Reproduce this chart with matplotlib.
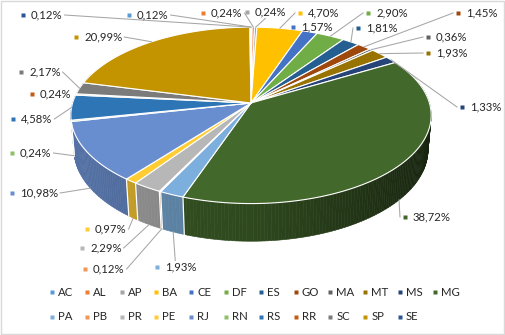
import numpy as np
import matplotlib.pyplot as plt
from matplotlib.collections import PolyCollection
from matplotlib.colors import to_rgb
from matplotlib.patches import Rectangle

plt.rcParams["font.family"] = ["Lato", "DejaVu Sans"]

states = ["AC", "AL", "AP", "BA", "CE", "DF", "ES", "GO", "MA", "MT", "MS", "MG",
          "PA", "PB", "PR", "PE", "RJ", "RN", "RS", "RR", "SC", "SP", "SE"]
shares = [0.12, 0.24, 0.24, 4.70, 1.57, 2.90, 1.81, 1.45, 0.36, 1.93, 1.33, 38.72,
          1.93, 0.12, 2.29, 0.97, 10.98, 0.24, 4.58, 0.24, 2.17, 20.99, 0.12]
colors = ["#5B9BD5", "#ED7D31", "#A5A5A5", "#FFC000", "#4472C4", "#70AD47",
          "#255E91", "#9E480E", "#636363", "#997300", "#264478", "#43682B",
          "#7CAFDD", "#F1975A", "#B7B7B7", "#FFCD33", "#698ED0", "#8CC168",
          "#2E75B6", "#C55A11", "#7B7B7B", "#C39300", "#2F5597"]

# label marker positions (pixels), one per slice
label_pos = [(129, 15), (203, 13), (247, 12), (300, 13), (293, 27), (368, 13),
             (358, 28), (458, 13), (428, 37), (428, 53), (462, 107), (405, 217),
             (157, 267), (85, 269), (82, 248), (87, 229), (12, 193), (12, 153),
             (13, 119), (32, 94), (21, 72), (76, 37), (23, 15)]

TEXT = "#262626"
LEADER = "#a6a6a6"

# simple perspective camera for a unit disc of thickness H
CX, CY = 251.0, 103.0
ELEV = np.radians(29)
DIST = 6.25
FOCAL = 1115.0
H = 0.223


def project(theta, z):
    u = np.sin(theta)
    v = np.cos(theta)
    w = -v * np.cos(ELEV) + z * np.sin(ELEV)
    s = FOCAL / (DIST - w)
    return CX + u * s, CY - (v * np.sin(ELEV) + z * np.cos(ELEV)) * s, w


def wall_shade(color, theta):
    s = np.sin(theta)
    k = 0.70 - 0.1 * s - 0.27 * max(s, 0.0)
    return tuple(c * k for c in to_rgb(color))


fig = plt.figure(figsize=(5.05, 3.35), dpi=100)
ax = fig.add_axes([0, 0, 1, 1])
ax.set_xlim(0, 505)
ax.set_ylim(335, 0)
ax.axis("off")

fracs = np.array(shares) / np.sum(shares)
bounds = np.concatenate([[0], np.cumsum(fracs)]) * 2 * np.pi

# ----------------------------
# Side wall (front part only)
# ----------------------------
quads, quad_colors, depth = [], [], []
lo, hi = np.pi / 2 - 0.35, 3 * np.pi / 2 + 0.35
for i, col in enumerate(colors):
    a0, a1 = max(bounds[i], lo), min(bounds[i + 1], hi)
    if a1 <= a0:
        continue
    n = max(2, int((a1 - a0) / np.radians(1.0)) + 1)
    ts = np.linspace(a0, a1, n)
    for t0, t1 in zip(ts[:-1], ts[1:]):
        x0, y0, _ = project(t0, 0)
        x1, y1, _ = project(t1, 0)
        x2, y2, _ = project(t1, -H)
        x3, y3, _ = project(t0, -H)
        quads.append([(x0, y0), (x1, y1), (x2, y2), (x3, y3)])
        quad_colors.append(wall_shade(col, (t0 + t1) / 2))
        depth.append(project((t0 + t1) / 2, -H / 2)[2])

order = np.argsort(depth)
ax.add_collection(PolyCollection(
    [quads[k] for k in order],
    facecolors=[quad_colors[k] for k in order],
    edgecolors=[quad_colors[k] for k in order],
    linewidths=0.4,
))

for b in bounds[1:-1]:
    if np.pi / 2 + 0.05 < b < 3 * np.pi / 2 - 0.05:
        xa, ya, _ = project(b, 0)
        xb, yb, _ = project(b, -H)
        ax.plot([xa, xb], [ya, yb], color="white", lw=0.9)

# ----------------------------
# Top surface
# ----------------------------
tops = []
for i in range(len(shares)):
    n = max(3, int((bounds[i + 1] - bounds[i]) / np.radians(0.5)) + 1)
    ts = np.linspace(bounds[i], bounds[i + 1], n)
    xs, ys, _ = project(ts, 0)
    tops.append([(CX, CY)] + list(zip(xs, ys)))
ax.add_collection(PolyCollection(tops, facecolors=colors, edgecolors="white",
                                 linewidths=0.8, joinstyle="round"))

# ----------------------------
# Data labels with leader lines
# ----------------------------
fig.canvas.draw()
renderer = fig.canvas.get_renderer()
inv = ax.transData.inverted()
for i, (mx, my) in enumerate(label_pos):
    label = f"{shares[i]:.2f}".replace(".", ",") + "%"
    ax.plot(mx, my, marker="s", ms=2.4, color=colors[i], mec="none")
    t = ax.text(mx + 8, my, label, fontsize=8.2, color=TEXT, va="center", ha="left")

    mid = (bounds[i] + bounds[i + 1]) / 2
    z = -H if np.radians(100) < mid < np.radians(262) else 0
    axp, ayp, _ = project(mid, z)

    bb = t.get_window_extent(renderer)
    (x0, y1), (x1, y0) = inv.transform([(bb.x0, bb.y0), (bb.x1, bb.y1)])
    x0 = mx - 3
    if axp > x1 + 2:
        sx, sy = x1 + 2, my
    elif axp < x0 - 2:
        sx, sy = x0 - 2, my
    elif ayp > my:
        sx, sy = (x0 + x1) / 2, y1 + 1
    else:
        sx, sy = (x0 + x1) / 2, y0 - 1
    if np.hypot(axp - sx, ayp - sy) > 4:
        ax.plot([sx, axp], [sy, ayp], color=LEADER, lw=0.75)

# ----------------------------
# Legend
# ----------------------------
for i, name in enumerate(states):
    row, colm = divmod(i, 12)
    lx = 52 + colm * 34.8
    ly = 292 + row * 25
    ax.plot(lx, ly, marker="s", ms=2.2, color=colors[i], mec="none")
    ax.text(lx + 6, ly, name, fontsize=8.2, color=TEXT, va="center", ha="left")

ax.add_patch(Rectangle((0.5, 0.5), 503.5, 333.5, fill=False,
                       edgecolor="#d9d9d9", lw=1))

fig.savefig("out.png", dpi=100)
